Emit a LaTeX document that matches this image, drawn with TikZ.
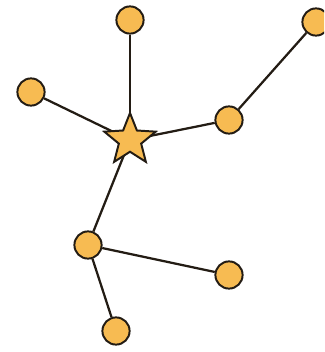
\documentclass[tikz,border=0pt]{standalone}
\usepackage{tikz}
\usetikzlibrary{shapes.geometric, backgrounds}
\definecolor{nodefill}{RGB}{247,187,82}
\definecolor{nodeline}{RGB}{35,28,20}
\begin{document}
\begin{tikzpicture}[
  x=0.025cm, y=-0.025cm,
  dot/.style={circle, fill=nodefill, draw=nodeline, line width=1.4pt, minimum size=0.68cm, inner sep=0pt},
  hub/.style={star, star points=5, star point ratio=2.3, fill=nodefill, draw=nodeline, line width=1.4pt, minimum size=1.35cm, inner sep=0pt},
  link/.style={line width=1.6pt, color=nodeline}
]
  \useasboundingbox (0,0) rectangle (324,352);
  \clip (0,0) rectangle (324,352);

  \node[hub] (centre) at (130,140) {};
  \node[dot] (top) at (130,20) {};
  \node[dot] (left) at (31,92) {};
  \node[dot] (right) at (229,120) {};
  \node[dot] (far) at (316,22) {};
  \node[dot] (lower) at (88,245) {};
  \node[dot] (lowright) at (229,275) {};
  \node[dot] (bottom) at (116,331) {};

  \begin{scope}[on background layer]
    \draw[link] (centre.center) -- (top);
    \draw[link] (centre.center) -- (left);
    \draw[link] (centre.center) -- (right);
    \draw[link] (right) -- (far);
    \draw[link] (centre.center) -- (lower);
    \draw[link] (lower) -- (lowright);
    \draw[link] (lower) -- (bottom);
  \end{scope}
\end{tikzpicture}
\end{document}
